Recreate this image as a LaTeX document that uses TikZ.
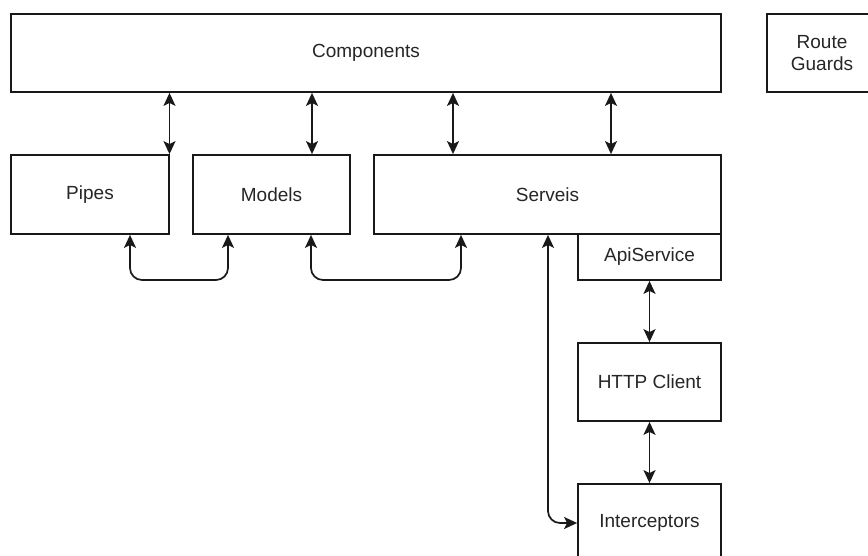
\documentclass[tikz,border=0pt]{standalone}
\usepackage{fontspec}
\setmainfont{Liberation Sans}
\usetikzlibrary{arrows.meta}
\begin{document}
\begin{tikzpicture}[x=1pt,y=-1pt,
  box/.style={draw=black!90, line width=1.8pt, rectangle, inner sep=0pt, font=\fontsize{19}{22}\selectfont, text=black!85},
  link/.style={draw=black!90, line width=1.7pt, {Stealth[length=13pt,width=12pt,inset=3pt]}-{Stealth[length=13pt,width=12pt,inset=3pt]}}]
\clip (0,0) rectangle (868,556);
\fill[white] (0,0) rectangle (868,556);
\node[box, minimum width=710pt, minimum height=78pt] (comp) at (366,53) {Components};
\node[box, minimum width=110pt, minimum height=78pt, align=center] (guards) at (822,53) {Route\\Guards};
\node[box, minimum width=158pt, minimum height=79pt] (pipes) at (90,194.5) {Pipes};
\node[box, minimum width=157pt, minimum height=79pt] (models) at (271.5,194.5) {Models};
\node[box, minimum width=347pt, minimum height=79pt] (serveis) at (547.5,194.5) {Serveis};
\node[box, minimum width=143pt, minimum height=46pt] (api) at (649.5,257) {ApiService};
\node[box, minimum width=143pt, minimum height=78pt] (http) at (649.5,382) {HTTP Client};
\node[box, minimum width=143pt, minimum height=78pt] (inter) at (649.5,523) {Interceptors};
\foreach \x/\t in {169.5/pipes,312/models,453/serveis,611/serveis}
  \draw[link] (\x,0 |- comp.south) -- (\x,0 |- \t.north);
\draw[link, rounded corners=12pt] (130,0 |- pipes.south) -- (130,280) -- (228,280) -- (228,0 |- models.south);
\draw[link, rounded corners=12pt] (311,0 |- models.south) -- (311,280) -- (461,280) -- (461,0 |- serveis.south);
\draw[link, rounded corners=12pt] (548,0 |- serveis.south) -- (548,0 |- inter.west) -- (inter.west);
\draw[link] (api.south) -- (http.north);
\draw[link] (http.south) -- (inter.north);
\end{tikzpicture}
\end{document}
